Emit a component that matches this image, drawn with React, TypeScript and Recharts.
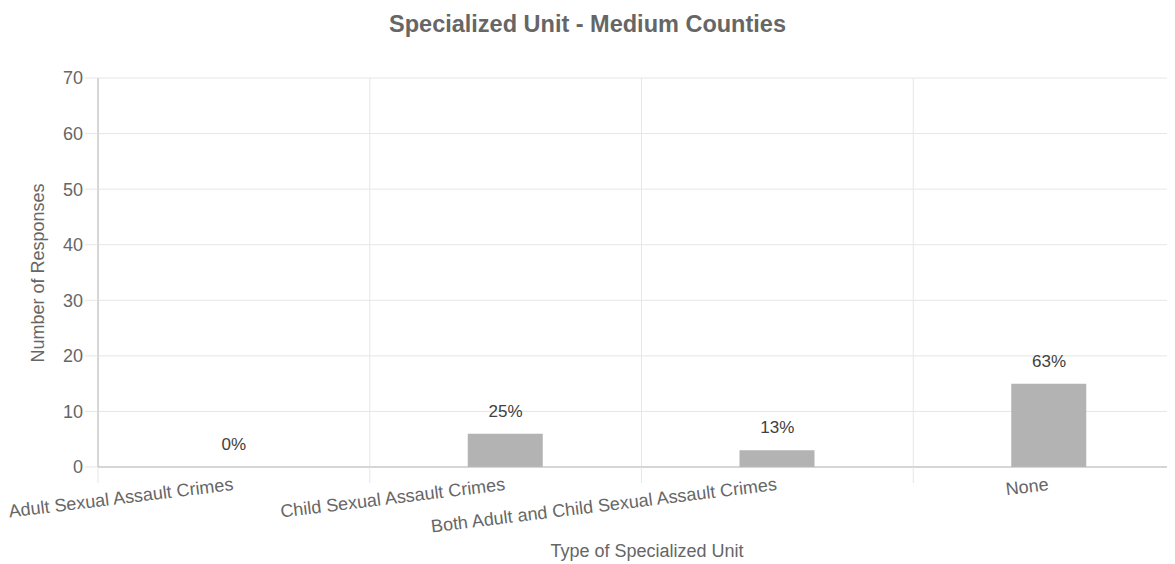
import React from 'react';
import { ComposedChart, Bar, Line, XAxis, YAxis, CartesianGrid, LabelList, Label } from 'recharts';

const categories = [
  'Adult Sexual Assault Crimes',
  'Child Sexual Assault Crimes',
  'Both Adult and Child Sexual Assault Crimes',
  'None',
];
const responses = [0, 6, 3, 15];
const yTicks = [0, 10, 20, 30, 40, 50, 60, 70];

const total = responses.reduce((a, b) => a + b, 0);
const data = categories.map((name, i) => ({
  name,
  count: responses[i],
  pct: `${Math.round((responses[i] / total) * 100)}%`,
}));

const FONT = '"Liberation Sans", Arial, Helvetica, sans-serif';
const GRID = '#e6e6e6';
const AXIS = '#b8b8b8';
const TEXT = '#666';

// rotated category label plus the boundary tick on its left
function CategoryTick(props: any) {
  const { x, y, payload } = props;
  const half = payload?.offset ?? 136;
  return (
    <g>
      <line x1={x - half} x2={x - half} y1={y} y2={y + 16} stroke={GRID} />
      <text
        x={x}
        y={y + 23}
        transform={`rotate(-7, ${x}, ${y + 23})`}
        textAnchor="end"
        fill={TEXT}
        fontSize={18}
        fontFamily={FONT}
      >
        {payload.value}
      </text>
    </g>
  );
}

export default function App() {
  return (
    <div
      style={{
        position: 'relative',
        marginLeft: -8,
        marginTop: -8,
        width: 1175,
        height: 564,
        overflow: 'hidden',
        background: '#fff',
      }}
    >
      <div
        style={{
          position: 'absolute',
          top: 13,
          left: 0,
          width: 1175,
          textAlign: 'center',
          fontFamily: FONT,
          fontWeight: 'bold',
          fontSize: 23.5,
          lineHeight: '23px',
          color: TEXT,
        }}
      >
        Specialized Unit - Medium Counties
      </div>
      <ComposedChart
        width={1200}
        height={564}
        data={data}
        margin={{ top: 78, right: 15, bottom: 0, left: 0 }}
        style={{ fontFamily: FONT }}
      >
        <CartesianGrid
          stroke={GRID}
          verticalCoordinatesGenerator={({ offset }: any) =>
            [0, 1, 2, 3, 4].map((i) => offset.left + (i * offset.width) / categories.length)
          }
        />
        <XAxis
          dataKey="name"
          height={97}
          interval={0}
          tickLine={false}
          tickSize={0}
          tickMargin={0}
          axisLine={{ stroke: AXIS }}
          tick={<CategoryTick />}
        >
          <Label
            content={() => (
              <text x={647} y={557} textAnchor="middle" fill={TEXT} fontSize={18} fontFamily={FONT}>
                Type of Specialized Unit
              </text>
            )}
          />
        </XAxis>
        <YAxis
          width={98}
          domain={[0, 70]}
          ticks={yTicks}
          interval={0}
          tickSize={13}
          tickMargin={2}
          tickLine={{ stroke: GRID }}
          axisLine={{ stroke: AXIS }}
          tick={{ fill: TEXT, fontSize: 18, fontFamily: FONT }}
        >
          <Label
            content={() => (
              <text
                x={38}
                y={273}
                transform="rotate(-90, 38, 273)"
                textAnchor="middle"
                dominantBaseline="central"
                fill={TEXT}
                fontSize={18}
                fontFamily={FONT}
              >
                Number of Responses
              </text>
            )}
          />
        </YAxis>
        <Bar dataKey="count" fill="#b3b3b3" barSize={75} isAnimationActive={false} />
        {/* invisible line only carries the percentage labels, so the 0 bar gets one too */}
        <Line dataKey="count" stroke="none" dot={false} activeDot={false} isAnimationActive={false}>
          <LabelList dataKey="pct" position="top" offset={17} fill="#404040" fontSize={17} fontFamily={FONT} />
        </Line>
      </ComposedChart>
    </div>
  );
}
